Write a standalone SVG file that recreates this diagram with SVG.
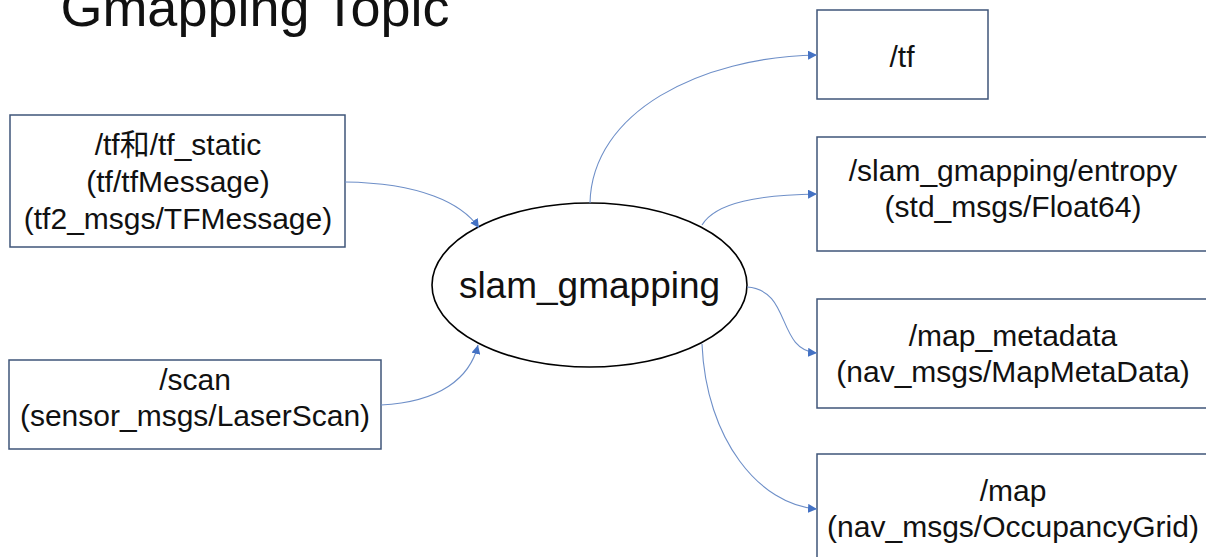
<svg xmlns="http://www.w3.org/2000/svg" width="1206" height="557" viewBox="0 0 1206 557">
  <defs>
    <marker id="arr" viewBox="0 0 10 10" refX="10" refY="5" markerWidth="9" markerHeight="9" markerUnits="userSpaceOnUse" orient="auto">
      <path d="M0,0 L10,5 L0,10 z" fill="#4472C4"/>
    </marker>
    <style>
      .box { fill: #ffffff; stroke: #3F5579; stroke-width: 1.5; }
      .ell { fill: #ffffff; stroke: #000000; stroke-width: 1.6; }
      .t { font-family: "Liberation Sans", "Noto Sans CJK SC", sans-serif; fill: #111111; text-anchor: middle; }
      .lbl { font-size: 30px; }
      .conn path { fill: none; stroke: #6E8FC8; stroke-width: 1.1; marker-end: url(#arr); }
    </style>
  </defs>
  <rect width="1206" height="557" fill="#ffffff"/>
  <text class="t" x="255" y="26" style="font-size:54px">Gmapping Topic</text>

  <g id="n_tf_in">
    <rect class="box" x="10" y="115" width="335" height="132"/>
    <text class="t lbl" x="178" y="155">/tf和/tf_static</text>
    <text class="t lbl" x="178" y="192">(tf/tfMessage)</text>
    <text class="t lbl" x="178" y="229">(tf2_msgs/TFMessage)</text>
  </g>
  <g id="n_scan">
    <rect class="box" x="9" y="360" width="372" height="89"/>
    <text class="t lbl" x="195" y="390">/scan</text>
    <text class="t lbl" x="195" y="426">(sensor_msgs/LaserScan)</text>
  </g>
  <g id="n_slam">
    <ellipse class="ell" cx="589.5" cy="285" rx="157.5" ry="82"/>
    <text class="t" x="589.5" y="298" style="font-size:37px">slam_gmapping</text>
  </g>
  <g id="n_tf_out">
    <rect class="box" x="817" y="10" width="171" height="89"/>
    <text class="t lbl" x="902" y="67">/tf</text>
  </g>
  <g id="n_entropy">
    <rect class="box" x="817" y="137" width="400" height="114"/>
    <text class="t lbl" x="1013" y="181">/slam_gmapping/entropy</text>
    <text class="t lbl" x="1013" y="217">(std_msgs/Float64)</text>
  </g>
  <g id="n_metadata">
    <rect class="box" x="817" y="299" width="400" height="109"/>
    <text class="t lbl" x="1013" y="346">/map_metadata</text>
    <text class="t lbl" x="1013" y="382">(nav_msgs/MapMetaData)</text>
  </g>
  <g id="n_map">
    <rect class="box" x="817" y="454" width="400" height="120"/>
    <text class="t lbl" x="1013" y="501">/map</text>
    <text class="t lbl" x="1013" y="537">(nav_msgs/OccupancyGrid)</text>
  </g>

  <g id="connectors" class="conn">
    <path d="M345,182 C420,183 462,203 479,228"/>
    <path d="M381,405 C440,402 470,378 478,345"/>
    <path d="M590,203 C592,112 700,57 817,55"/>
    <path d="M702,225 C716,202 760,195 817,194"/>
    <path d="M747,287 C792,290 776,350 817,353"/>
    <path d="M702,344 C706,440 760,505 817,509"/>
  </g>
</svg>
